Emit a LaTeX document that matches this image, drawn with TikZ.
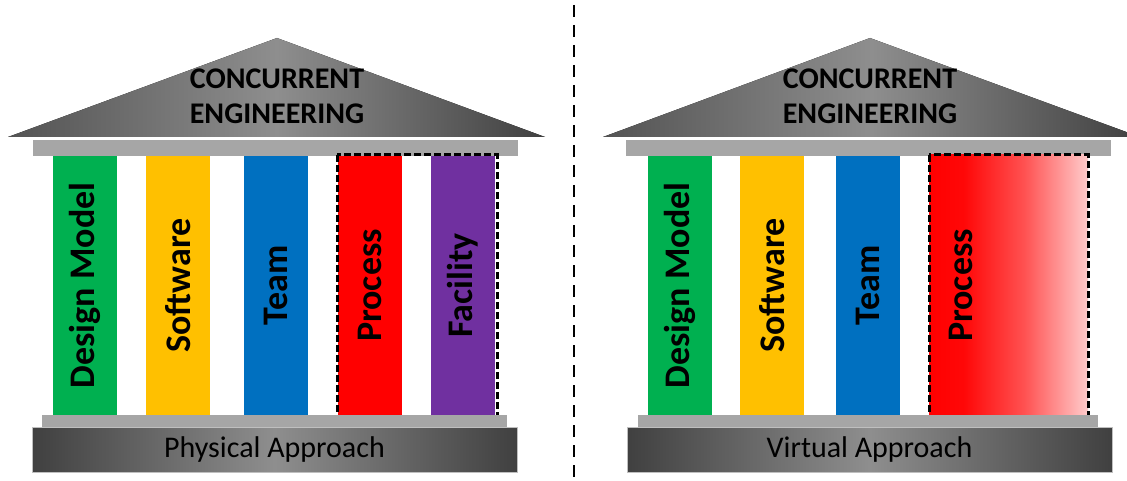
\documentclass[tikz,border=0pt]{standalone}
\usepackage{fontspec}
\setmainfont{Carlito}
\usetikzlibrary{positioning}
\definecolor{pgreen}{HTML}{00B050}
\definecolor{pyellow}{HTML}{FFC000}
\definecolor{pblue}{HTML}{0070C0}
\definecolor{pred}{HTML}{FF0000}
\definecolor{ppurple}{HTML}{7030A0}
\definecolor{bargray}{HTML}{A6A6A6}
\definecolor{edgegray}{HTML}{404040}
\definecolor{midgray}{HTML}{8E8E8E}
\pgfdeclarehorizontalshading{fadered}{100bp}{color(0bp)=(pred); color(25bp)=(pred); color(36bp)=(pred!97!white); color(55bp)=(pred!68!white); color(75bp)=(pred!20!white); color(100bp)=(pred!20!white)}

\begin{document}
\begin{tikzpicture}[x=1pt, y=-1pt,
    pillar/.style={rotate=90, minimum width=259pt, minimum height=64pt, inner sep=0pt, font=\fontsize{36}{36}\selectfont\bfseries},
    beam/.style={fill=bargray, inner sep=0pt, minimum width=485pt, minimum height=16pt},
    step bar/.style={fill=bargray, inner sep=0pt, minimum width=465pt, minimum height=12pt},
    plinth/.style={inner sep=0pt, minimum width=485pt, minimum height=45pt, left color=edgegray, right color=edgegray, middle color=midgray, draw=white!75!black, line width=0.6pt, font=\fontsize{30}{30}\selectfont},
    roof/.style={left color=edgegray!90!white, right color=edgegray, middle color=midgray},
    roof text/.style={align=center, font=\fontsize{30}{35}\selectfont\bfseries}]
  \useasboundingbox (0,0) rectangle (1127,481);

  % physical approach
  \coordinate (lroofl) at (8,137);
  \coordinate (lroofr) at (545,137);
  \coordinate (lapex) at (277,38);
  \fill[roof] (lroofl) -- (lapex) -- (lroofr) -- cycle;
  \node[roof text] (lce) at (277,96) {CONCURRENT\\ENGINEERING};
  \node[beam] (lbeam) at (275.5,148) {};
  \node[pillar, fill=pgreen] (ldesign) at (85,285.5) {Design Model};
  \node[pillar, fill=pyellow] (lsoft) at (178,285.5) {Software};
  \node[pillar, fill=pblue] (lteam) at (276,285.5) {Team};
  \node[pillar, fill=pred] (lproc) at (370,285.5) {Process};
  \node[pillar, fill=ppurple] (lfac) at (463,285.5) {Facility};
  \coordinate (lframea) at (337,155);
  \coordinate (lframeb) at (497,417);
  \draw[line width=3pt, dash pattern=on 7pt off 3pt] (lframea) rectangle (lframeb);
  \node[step bar] (lstep) at (274.5,421) {};
  \node[plinth] (lbase) at (274.5,449.5) {Physical Approach};

  % divider
  \coordinate (dtop) at (574,5);
  \coordinate (dbot) at (574,481);
  \draw[line width=2pt, dash pattern=on 12pt off 8pt] (dtop) -- (dbot);

  % virtual approach
  \coordinate (rroofl) at (603,137);
  \coordinate (rroofr) at (1140,137);
  \coordinate (rapex) at (870,38);
  \fill[roof] (rroofl) -- (rapex) -- (rroofr) -- cycle;
  \node[roof text] (rce) at (870,96) {CONCURRENT\\ENGINEERING};
  \node[beam] (rbeam) at (868,148) {};
  \node[pillar, fill=pgreen] (rdesign) at (680,285.5) {Design Model};
  \node[pillar, fill=pyellow] (rsoft) at (772,285.5) {Software};
  \node[pillar, fill=pblue] (rteam) at (868,285.5) {Team};
  \coordinate (rframea) at (929,155);
  \coordinate (rframeb) at (1088,417);
  \shade[shading=fadered] (rframea) rectangle (rframeb);
  \draw[line width=3pt, dash pattern=on 7pt off 3pt] (rframea) rectangle (rframeb);
  \node[pillar] (rproctext) at (961,285.5) {Process};
  \node[step bar, minimum width=460pt] (rstep) at (868,421) {};
  \node[plinth] (rbase) at (869.5,449.5) {Virtual Approach};
\end{tikzpicture}
\end{document}
